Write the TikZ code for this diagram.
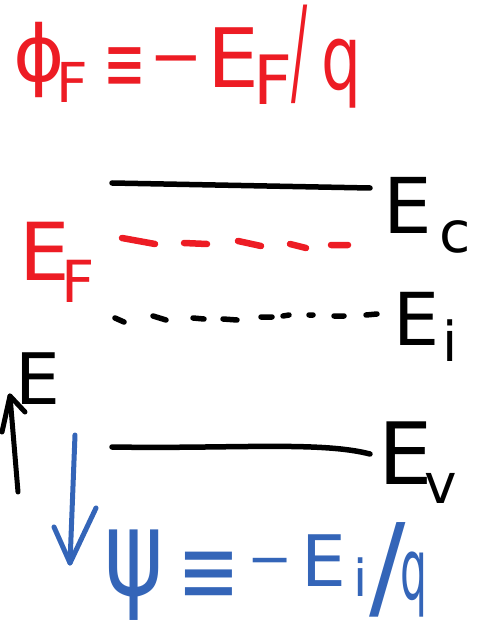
\documentclass[tikz,border=0pt]{standalone}
\usepackage{fontspec}
\setmainfont{DejaVu Sans}
\usepackage{graphicx}
\definecolor{hred}{RGB}{237,28,36}
\definecolor{hblue}{RGB}{52,101,184}
\newcommand\hfs[1]{\fontsize{#1}{#1}\selectfont}
\begin{document}
\begin{tikzpicture}[x=1pt,y=-1pt,
  g/.style={inner sep=0pt,outer sep=0pt,anchor=center},
  lvl/.style={line width=5.5pt,line cap=round,line join=round},
  redlbl/.style={g,text=hred},
  bluelbl/.style={g,text=hblue},
  blklbl/.style={g,text=black}]
\useasboundingbox (0,0) rectangle (479,636);

% red formula
\node[redlbl,font=\hfs{78}] (phi) at (39,60) {ϕ};
\node[redlbl,font=\hfs{55}] (phiF) at (72,82) {F};
\node[redlbl,font=\hfs{68}] (eqA) at (125,70) {\scalebox{0.75}[1.2]{≡}};
\node[redlbl,font=\hfs{64}] (minA) at (176,67) {−};
\node[redlbl,font=\hfs{82}] (EA) at (233,58) {E};
\node[redlbl,font=\hfs{68}] (FA) at (273,80) {F};
\node[redlbl,font=\hfs{120}] (slA) at (300,54) {\scalebox{0.4}[1]{/}};
\node[redlbl,font=\hfs{90}] (qA) at (341,74) {\scalebox{0.7}[1]{q}};

% Ec
\coordinate (ecL) at (112,183);
\coordinate (ecR) at (370,188);
\draw[lvl] (ecL) -- (ecR);
\node[blklbl,font=\hfs{77}] (EcE) at (407.5,205) {E};
\node[blklbl,font=\hfs{57}] (Ecc) at (455,237) {c};

% EF
\draw[lvl,hred,line width=6.5pt] (122,238)--(155,244) (184,243)--(207,244) (238,241)--(261,246) (290,244)--(306,248) (331,245)--(348,245);
\node[redlbl,font=\hfs{80}] (EFE) at (44.5,251) {E};
\node[redlbl,font=\hfs{58}] (EFF) at (78.5,281) {F};

% Ei
\draw[lvl,line width=5.5pt] (115,318)--(124,322) (153,316)--(166,320) (193,318)--(204,319) (223,319)--(237,320)
  (261,317)--(272,317) (283,316)--(289,315) (309,315)--(313,315) (334,316)--(344,316) (366,315)--(377,314);
\node[blklbl,font=\hfs{73}] (EiE) at (416.5,318.5) {E};
\node[blklbl,font=\hfs{55}] (Eii) at (450,341) {i};

% Ev
\coordinate (evL) at (112,447);
\coordinate (evR) at (370,454);
\draw[lvl] (evL) .. controls (230,449) and (320,441) .. (evR);
\node[blklbl,font=\hfs{86}] (EvE) at (406,453.5) {E};
\node[blklbl,font=\hfs{55}] (Evv) at (441,488) {v};

% energy arrow
\coordinate (eBot) at (18,492);
\coordinate (eTop) at (10,396);
\draw[lvl,line width=5pt] (eBot) -- (eTop);
\draw[lvl,line width=5pt] (2,432) -- (eTop) -- (25,412);
\node[blklbl,font=\hfs{71}] (Eax) at (38,379) {E};

% potential arrow
\coordinate (pTop) at (75,435);
\coordinate (pBot) at (70,563);
\draw[lvl,hblue,line width=5pt] (pTop) -- (pBot);
\draw[lvl,hblue,line width=5pt] (54,527) -- (pBot) -- (96,508);

% blue formula
\node[bluelbl,font=\hfs{120}] (psi) at (134,575) {\scalebox{0.75}[1]{ψ}};
\node[bluelbl,font=\hfs{75}] (eqB) at (209,578) {\scalebox{1}[1.3]{≡}};
\node[bluelbl,font=\hfs{54}] (minB) at (270,568) {−};
\node[bluelbl,font=\hfs{71}] (EB) at (323.5,561) {E};
\node[bluelbl,font=\hfs{51}] (iB) at (361,577) {i};
\node[bluelbl,font=\hfs{72}] (slB) at (388,570) {\scalebox{1.5}[1.6]{/}};
\node[bluelbl,font=\hfs{85}] (qB) at (414,585) {\scalebox{0.5}[1]{q}};
\end{tikzpicture}
\end{document}
